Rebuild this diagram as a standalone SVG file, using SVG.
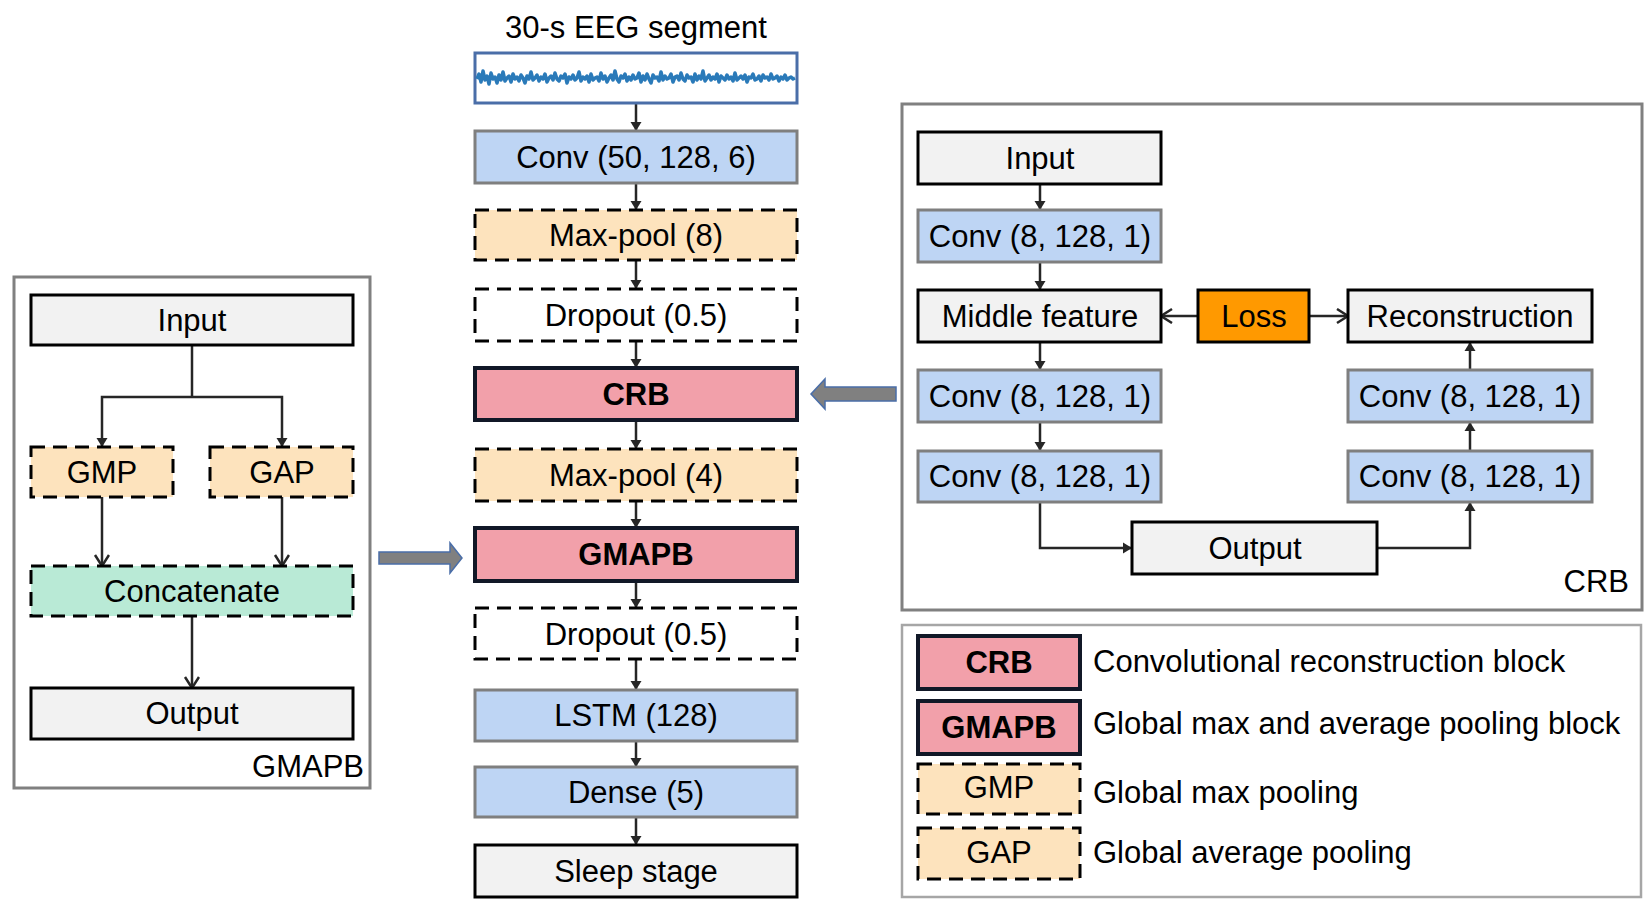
<svg xmlns="http://www.w3.org/2000/svg" width="1647" height="919" viewBox="0 0 1647 919">
<defs>
<style>
text{font-family:"Liberation Sans",Arial,sans-serif;font-size:31px;fill:#000;}
.c{text-anchor:middle;}
.e{text-anchor:end;}
.b{font-weight:bold;}
.panel{fill:#fff;stroke:#808080;stroke-width:3;}
.legend{fill:#fff;stroke:#a6a6a6;stroke-width:2.5;}
.gray{fill:#f2f2f2;stroke:#000;stroke-width:3;}
.blue{fill:#bed5f4;stroke:#7f7f7f;stroke-width:3;}
.pool{fill:#fde3bd;stroke:#000;stroke-width:3;stroke-dasharray:14 8;}
.drop{fill:#fff;stroke:#000;stroke-width:3;stroke-dasharray:14 8;}
.block{fill:#f2a0aa;stroke:#111827;stroke-width:4;}
.concat{fill:#b9ead6;stroke:#000;stroke-width:3;stroke-dasharray:14 8;}
.loss{fill:#ff9900;stroke:#000;stroke-width:3;}
.ln{fill:none;stroke:#262626;stroke-width:2.5;}
.ar{fill:none;stroke:#262626;stroke-width:2.5;marker-end:url(#tri);}
.av{fill:none;stroke:#262626;stroke-width:2.5;marker-end:url(#vee);}
.big{fill:#808080;stroke:#4a6ea8;stroke-width:1.5;}
</style>
<marker id="tri" markerUnits="userSpaceOnUse" markerWidth="10" markerHeight="12" refX="9" refY="6" orient="auto">
<path d="M0,0.5 L9,6 L0,11.5 z" fill="#262626"/>
</marker>
<marker id="vee" markerUnits="userSpaceOnUse" markerWidth="14" markerHeight="18" refX="12" refY="8" orient="auto">
<path d="M1,1 L12,8 L1,15" fill="none" stroke="#262626" stroke-width="2.5"/>
</marker>
</defs>
<rect width="1647" height="919" fill="#fff"/>

<!-- panels -->
<rect id="gmapb-panel" class="panel" x="14" y="277" width="356" height="511"/>
<rect id="crb-panel" class="panel" x="902" y="104" width="740" height="506"/>
<rect id="legend-panel" class="legend" x="902" y="625" width="739" height="272"/>

<!-- connectors -->
<g id="connectors">
<line class="ar" x1="636" y1="103" x2="636" y2="131"/>
<line class="ar" x1="636" y1="183" x2="636" y2="210"/>
<line class="ar" x1="636" y1="260" x2="636" y2="289"/>
<line class="ar" x1="636" y1="341" x2="636" y2="368"/>
<line class="ar" x1="636" y1="420" x2="636" y2="449"/>
<line class="ar" x1="636" y1="501" x2="636" y2="528"/>
<line class="ar" x1="636" y1="581" x2="636" y2="608"/>
<line class="ar" x1="636" y1="659" x2="636" y2="690"/>
<line class="ar" x1="636" y1="741" x2="636" y2="767"/>
<line class="ar" x1="636" y1="817" x2="636" y2="845"/>

<polyline class="ln" points="192,345 192,397"/>
<polyline class="ar" points="192,397 102,397 102,447"/>
<polyline class="ar" points="192,397 282,397 282,447"/>
<line class="av" x1="102" y1="497" x2="102" y2="566"/>
<line class="av" x1="282" y1="497" x2="282" y2="566"/>
<line class="av" x1="192" y1="616" x2="192" y2="688"/>

<line class="ar" x1="1040" y1="184" x2="1040" y2="210"/>
<line class="ar" x1="1040" y1="262" x2="1040" y2="290"/>
<line class="ar" x1="1040" y1="342" x2="1040" y2="370"/>
<line class="ar" x1="1040" y1="422" x2="1040" y2="451"/>
<polyline class="ar" points="1040,502 1040,548 1132,548"/>
<polyline class="ar" points="1377,548 1470,548 1470,502"/>
<line class="ar" x1="1470" y1="451" x2="1470" y2="422"/>
<line class="ar" x1="1470" y1="370" x2="1470" y2="342"/>
<line class="av" x1="1198" y1="316" x2="1161" y2="316"/>
<line class="av" x1="1309" y1="316" x2="1348" y2="316"/>

<path class="big" d="M896,387 L825,387 L825,379 L811,394 L825,409 L825,401 L896,401 Z"/>
<path class="big" d="M379,552 L450,552 L450,543 L462,558 L450,573 L450,564 L379,564 Z"/>
</g>

<!-- center column -->
<text class="c" x="636" y="38">30-s EEG segment</text>
<g id="eeg">
<rect x="475" y="53" width="322" height="50" fill="#fff" stroke="#4a6ea8" stroke-width="3"/>
<polyline fill="none" stroke="#2a7ab9" stroke-width="3.5" stroke-linejoin="round" points="477,79 479,74 481,82 483,71 485,80 487,76 489,84 491,73 493,79 495,77 497,83 499,75 501,80 503,72 505,81 507,78 509,76 511,82 513,74 515,79 517,77 519,81 521,75 523,78 525,83 527,76 529,79 531,72 533,80 535,78 537,75 539,81 541,77 543,79 545,74 547,82 549,78 551,76 553,80 555,73 557,79 559,81 561,76 563,78 565,74 567,83 569,77 571,79 573,75 575,80 577,78 579,72 581,81 583,77 585,79 587,76 589,82 591,74 593,80 595,78 597,77 599,81 601,73 603,79 605,76 607,82 609,78 611,75 613,80 615,71 617,79 619,82 621,76 623,78 625,74 627,81 629,77 631,80 633,75 635,79 637,78 639,73 641,82 643,76 645,80 647,74 649,79 651,83 653,75 655,78 657,77 659,81 661,72 663,80 665,76 667,79 669,78 671,74 673,82 675,77 677,76 679,80 681,73 683,79 685,81 687,75 689,78 691,77 693,82 695,74 697,80 699,76 701,79 703,71 705,81 707,78 709,75 711,80 713,77 715,79 717,74 719,82 721,76 723,78 725,80 727,75 729,79 731,77 733,81 735,73 737,80 739,78 741,76 743,79 745,75 747,82 749,77 751,78 753,74 755,80 757,79 759,76 761,81 763,75 765,78 767,77 769,80 771,74 773,79 775,78 777,76 779,81 781,77 783,79 785,75 787,80 789,78 791,77 793,79 795,78"/>
</g>
<g id="conv1"><rect class="blue" x="475" y="131" width="322" height="52"/><text class="c" x="636" y="168">Conv (50, 128, 6)</text></g>
<g id="maxpool8"><rect class="pool" x="475" y="210" width="322" height="50"/><text class="c" x="636" y="246">Max-pool (8)</text></g>
<g id="dropout1"><rect class="drop" x="475" y="289" width="322" height="52"/><text class="c" x="636" y="326">Dropout (0.5)</text></g>
<g id="crb"><rect class="block" x="475" y="368" width="322" height="52"/><text class="c b" x="636" y="405">CRB</text></g>
<g id="maxpool4"><rect class="pool" x="475" y="449" width="322" height="52"/><text class="c" x="636" y="486">Max-pool (4)</text></g>
<g id="gmapb"><rect class="block" x="475" y="528" width="322" height="53"/><text class="c b" x="636" y="565">GMAPB</text></g>
<g id="dropout2"><rect class="drop" x="475" y="608" width="322" height="51"/><text class="c" x="636" y="645">Dropout (0.5)</text></g>
<g id="lstm"><rect class="blue" x="475" y="690" width="322" height="51"/><text class="c" x="636" y="726">LSTM (128)</text></g>
<g id="dense"><rect class="blue" x="475" y="767" width="322" height="50"/><text class="c" x="636" y="803">Dense (5)</text></g>
<g id="sleep"><rect class="gray" x="475" y="845" width="322" height="52"/><text class="c" x="636" y="882">Sleep stage</text></g>

<!-- GMAPB panel -->
<g id="g-input"><rect class="gray" x="31" y="295" width="322" height="50"/><text class="c" x="192" y="331">Input</text></g>
<g id="g-gmp"><rect class="pool" x="31" y="447" width="142" height="50"/><text class="c" x="102" y="483">GMP</text></g>
<g id="g-gap"><rect class="pool" x="210" y="447" width="143" height="50"/><text class="c" x="282" y="483">GAP</text></g>
<g id="g-concat"><rect class="concat" x="31" y="566" width="322" height="50"/><text class="c" x="192" y="602">Concatenate</text></g>
<g id="g-output"><rect class="gray" x="31" y="688" width="322" height="51"/><text class="c" x="192" y="724">Output</text></g>
<text class="e" x="364" y="777">GMAPB</text>

<!-- CRB panel -->
<g id="c-input"><rect class="gray" x="918" y="132" width="243" height="52"/><text class="c" x="1040" y="169">Input</text></g>
<g id="c-conv1"><rect class="blue" x="918" y="210" width="243" height="52"/><text class="c" x="1040" y="247">Conv (8, 128, 1)</text></g>
<g id="c-middle"><rect class="gray" x="918" y="290" width="243" height="52"/><text class="c" x="1040" y="327">Middle feature</text></g>
<g id="c-loss"><rect class="loss" x="1198" y="290" width="111" height="52"/><text class="c" x="1254" y="327">Loss</text></g>
<g id="c-recon"><rect class="gray" x="1348" y="290" width="244" height="52"/><text class="c" x="1470" y="327">Reconstruction</text></g>
<g id="c-conv2"><rect class="blue" x="918" y="370" width="243" height="52"/><text class="c" x="1040" y="407">Conv (8, 128, 1)</text></g>
<g id="c-conv3"><rect class="blue" x="918" y="451" width="243" height="51"/><text class="c" x="1040" y="487">Conv (8, 128, 1)</text></g>
<g id="c-conv4"><rect class="blue" x="1348" y="370" width="244" height="52"/><text class="c" x="1470" y="407">Conv (8, 128, 1)</text></g>
<g id="c-conv5"><rect class="blue" x="1348" y="451" width="244" height="51"/><text class="c" x="1470" y="487">Conv (8, 128, 1)</text></g>
<g id="c-output"><rect class="gray" x="1132" y="522" width="245" height="52"/><text class="c" x="1255" y="559">Output</text></g>
<text class="e" x="1629" y="592">CRB</text>

<!-- legend -->
<g id="leg-crb"><rect class="block" x="918" y="636" width="162" height="53"/><text class="c b" x="999" y="673">CRB</text><text x="1093" y="672">Convolutional reconstruction block</text></g>
<g id="leg-gmapb"><rect class="block" x="918" y="701" width="162" height="53"/><text class="c b" x="999" y="738">GMAPB</text><text x="1093" y="734">Global max and average pooling block</text></g>
<g id="leg-gmp"><rect class="pool" x="918" y="764" width="162" height="50"/><text class="c" x="999" y="798">GMP</text><text x="1093" y="803">Global max pooling</text></g>
<g id="leg-gap"><rect class="pool" x="918" y="828" width="162" height="51"/><text class="c" x="999" y="863">GAP</text><text x="1093" y="863">Global average pooling</text></g>
</svg>
